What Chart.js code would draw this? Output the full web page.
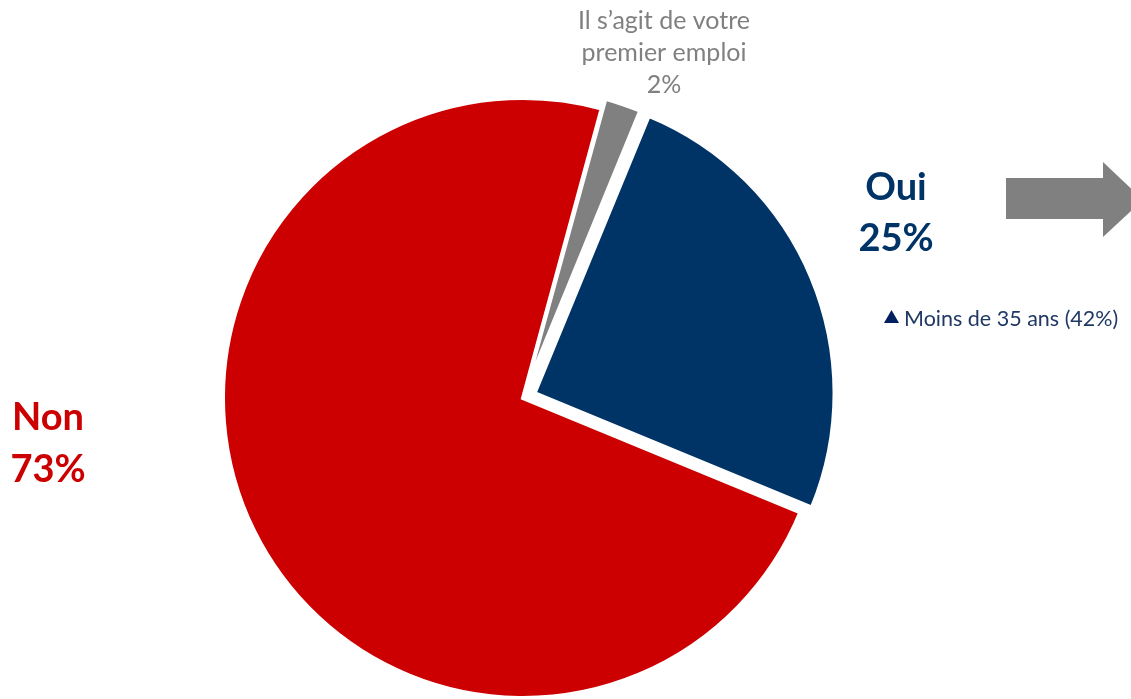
<!DOCTYPE html>
<html lang="fr">
<head>
<meta charset="utf-8">
<title>Premier emploi</title>
<script src="https://cdn.jsdelivr.net/npm/chart.js@4.4.0/dist/chart.umd.min.js"></script>
<style>
  html, body { margin: 0; padding: 0; background: #fff; }
  #wrap { position: relative; width: 1131px; height: 699px; }
</style>
</head>
<body>
<div id="wrap"><canvas id="pie-chart"></canvas></div>
<script>
// Données
const categories = ['Il s’agit de votre premier emploi', 'Oui', 'Non'];
const values = [2, 25, 73];
const sliceColors = ['#808080', '#003366', '#CC0000'];
// Chart.js ne décale l'arc que de offset/4 (+ un peu de rayon pour les petites parts)
const sliceOffsets = [22, 50, 0];

// Étiquettes (texte, position, style)
const labelLayout = [
  { lines: ['Il s’agit de votre', 'premier emploi', '2%'], x: 664, y: 29, step: 32, font: '400 25px Lato', color: '#808080', align: 'center' },
  { lines: ['Oui', '25%'], x: 896, y: 200, step: 51, font: '700 38px Lato', color: '#003366', align: 'center' },
  { lines: ['Non', '73%'], x: 48, y: 430, step: 52, font: '700 38px Lato', color: '#CC0000', align: 'center' },
  { lines: ['Moins de 35 ans (42%)'], x: 904, y: 326, step: 0, font: '400 21.5px Lato', color: '#1F3864', align: 'left' }
];

// Décorations : flèche grise et triangle
const decorPlugin = {
  id: 'decor',
  afterDraw(chart) {
    const ctx = chart.ctx;
    ctx.save();

    // flèche
    ctx.fillStyle = '#808080';
    ctx.beginPath();
    ctx.moveTo(1006, 178);
    ctx.lineTo(1103, 178);
    ctx.lineTo(1103, 162);
    ctx.lineTo(1143, 200);
    ctx.lineTo(1103, 237);
    ctx.lineTo(1103, 219);
    ctx.lineTo(1006, 219);
    ctx.closePath();
    ctx.fill();

    // triangle
    ctx.fillStyle = '#002060';
    ctx.beginPath();
    ctx.moveTo(884, 323);
    ctx.lineTo(899, 323);
    ctx.lineTo(891.5, 310);
    ctx.closePath();
    ctx.fill();

    // textes
    labelLayout.forEach(l => {
      ctx.font = l.font;
      ctx.fillStyle = l.color;
      ctx.textAlign = l.align;
      ctx.textBaseline = 'alphabetic';
      l.lines.forEach((t, i) => ctx.fillText(t, l.x, l.y + i * l.step));
    });
    ctx.restore();
  }
};

const chart = new Chart(document.getElementById('pie-chart'), {
  type: 'pie',
  data: {
    labels: categories,
    datasets: [{
      data: values,
      backgroundColor: sliceColors,
      borderColor: '#ffffff',
      borderWidth: 4,
      borderJoinStyle: 'miter',
      offset: sliceOffsets
    }]
  },
  options: {
    responsive: true,
    maintainAspectRatio: false,
    animation: false,
    rotation: 15.2,
    radius: 300,
    layout: { padding: { left: 0, right: 85, top: 97, bottom: 0 } },
    plugins: {
      legend: { display: false },
      tooltip: { enabled: false }
    }
  },
  plugins: [decorPlugin]
});
</script>
</body>
</html>
